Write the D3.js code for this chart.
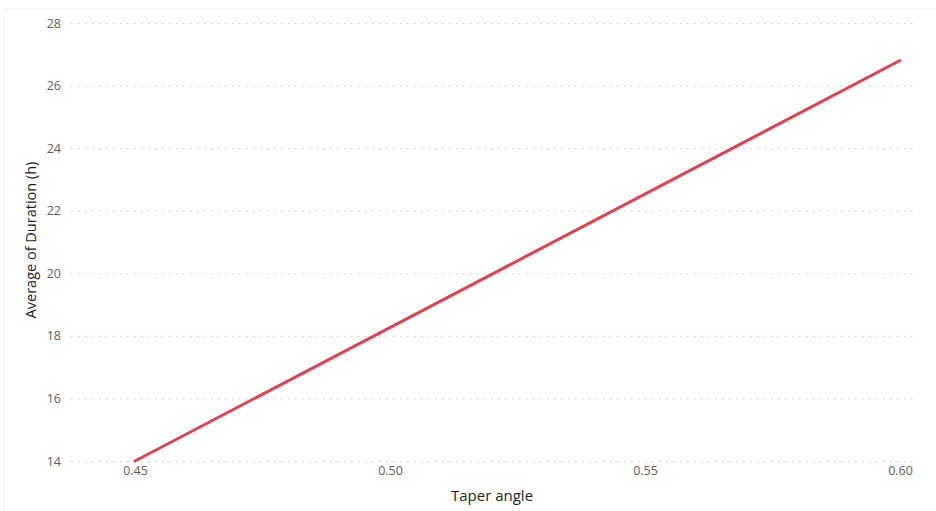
<!DOCTYPE html>
<html>
<head>
<meta charset="utf-8">
<script src="https://cdn.jsdelivr.net/npm/d3@7"></script>
<style>
  html, body { margin: 0; padding: 0; background: #fff; }
  svg { display: block; }
</style>
</head>
<body>
<svg id="chart" width="936" height="511"></svg>
<script>
// Average duration by taper angle
const taperAngle = [0.45, 0.60];
const avgDuration = [14.0, 26.8];
const yTicks = [14, 16, 18, 20, 22, 24, 26, 28];
const xTicks = [0.45, 0.50, 0.55, 0.60];

const svg = d3.select("#chart");
const W = 936, H = 511;

// light visual frame
svg.append("rect")
  .attr("x", 4.5).attr("y", 8.5)
  .attr("width", W).attr("height", H)
  .attr("fill", "none").attr("stroke", "#f2f2f2").attr("stroke-width", 1);

const x = d3.scaleLinear().domain([0.45, 0.60]).range([135, 900]);
const y = d3.scaleLinear().domain([14, 28]).range([461, 23]);

const tickFont = "'Open Sans', 'Noto Sans', sans-serif";

// horizontal dotted gridlines
svg.append("g")
  .selectAll("line")
  .data(yTicks)
  .join("line")
  .attr("x1", 71).attr("x2", 913)
  .attr("y1", d => y(d) + 0.5).attr("y2", d => y(d) + 0.5)
  .attr("stroke", "#c8c6c4")
  .attr("stroke-width", 1)
  .attr("stroke-dasharray", "1.5,5.5");

// y axis labels
const yAxis = d3.axisLeft(y).tickValues(yTicks).tickSize(0).tickPadding(0).tickFormat(d3.format("d"));
const gy = svg.append("g").attr("transform", "translate(61,0)").call(yAxis);
gy.select(".domain").remove();
gy.selectAll("text")
  .attr("fill", "#605e5c")
  .style("font-family", tickFont)
  .style("font-size", "12.5px");

// x axis labels
const xAxis = d3.axisBottom(x).tickValues(xTicks).tickSize(0).tickPadding(0).tickFormat(d3.format(".2f"));
const gx = svg.append("g").attr("transform", "translate(0,466)").call(xAxis);
gx.select(".domain").remove();
gx.selectAll("text")
  .attr("fill", "#605e5c")
  .style("font-family", tickFont)
  .style("font-size", "12.5px");

// axis titles
svg.append("text")
  .attr("x", 492).attr("y", 501)
  .attr("text-anchor", "middle")
  .attr("fill", "#252423")
  .style("font-family", tickFont)
  .style("font-size", "15px")
  .text("Taper angle");

svg.append("text")
  .attr("transform", "translate(36,240) rotate(-90)")
  .attr("text-anchor", "middle")
  .attr("fill", "#252423")
  .style("font-family", tickFont)
  .style("font-size", "14.5px")
  .text("Average of Duration (h)");

// data line
const line = d3.line()
  .x((d, i) => x(taperAngle[i]))
  .y(d => y(d));

svg.append("path")
  .datum(avgDuration)
  .attr("d", line)
  .attr("fill", "none")
  .attr("stroke", "#de4450")
  .attr("stroke-width", 3)
  .attr("stroke-linecap", "round");
</script>
</body>
</html>
